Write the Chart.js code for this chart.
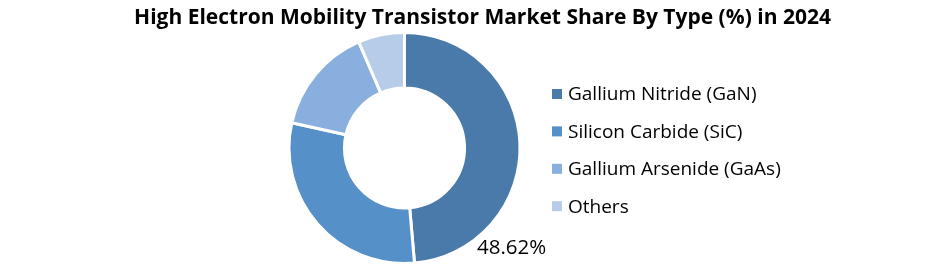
<!DOCTYPE html>
<html>
<head>
<meta charset="utf-8">
<script src="https://cdn.jsdelivr.net/npm/chart.js@4.4.1/dist/chart.umd.min.js"></script>
<style>
html,body{margin:0;padding:0;background:#fff;}
#wrap{width:941px;height:265px;position:relative;}
</style>
</head>
<body>
<div id="wrap"><canvas id="c" width="941" height="265"></canvas></div>
<script>
const categories = ["Gallium Nitride (GaN)", "Silicon Carbide (SiC)", "Gallium Arsenide (GaAs)", "Others"];
const shareValues = [48.62, 29.9, 15.0, 6.48];
const sliceColors = ["#4A7AAA", "#5590C8", "#88AFDE", "#B6CCE8"];
const shownLabels = ["48.62%", "", "", ""];
const titleText = "High Electron Mobility Transistor Market Share By Type (%) in 2024";

const overlay = {
  id: 'overlay',
  afterDraw(chart) {
    const ctx = chart.ctx;
    ctx.save();
    // title
    ctx.fillStyle = '#000';
    ctx.font = 'bold 21px "Open Sans"';
    ctx.textAlign = 'center';
    ctx.textBaseline = 'middle';
    ctx.fillText(titleText, 482.5, 18);
    // legend
    ctx.font = '19px "Open Sans"';
    ctx.textAlign = 'left';
    categories.forEach((c, i) => {
      const y = 94 + i * 37.4;
      ctx.fillStyle = sliceColors[i];
      ctx.fillRect(552, y - 5, 10, 10);
      ctx.fillStyle = '#000';
      ctx.fillText(c, 568, y + 1);
    });
    // data label
    const meta = chart.getDatasetMeta(0);
    const arc = meta.data[0];
    ctx.font = '20.5px "Open Sans"';
    ctx.textAlign = 'left';
    ctx.textBaseline = 'alphabetic';
    ctx.fillText(shownLabels[0], arc.x + 72.5, arc.y + 106);
    ctx.restore();
  }
};

new Chart(document.getElementById('c'), {
  type: 'doughnut',
  data: {
    labels: categories,
    datasets: [{
      data: shareValues,
      backgroundColor: sliceColors,
      borderColor: '#ffffff',
      borderWidth: 3,
      hoverOffset: 0
    }]
  },
  options: {
    responsive: false,
    animation: false,
    cutout: '52%',
    layout: { padding: { left: 287, right: 419, top: 31, bottom: 0 } },
    plugins: {
      legend: { display: false },
      title: { display: false },
      tooltip: { enabled: false }
    }
  },
  plugins: [overlay]
});
</script>
</body>
</html>
